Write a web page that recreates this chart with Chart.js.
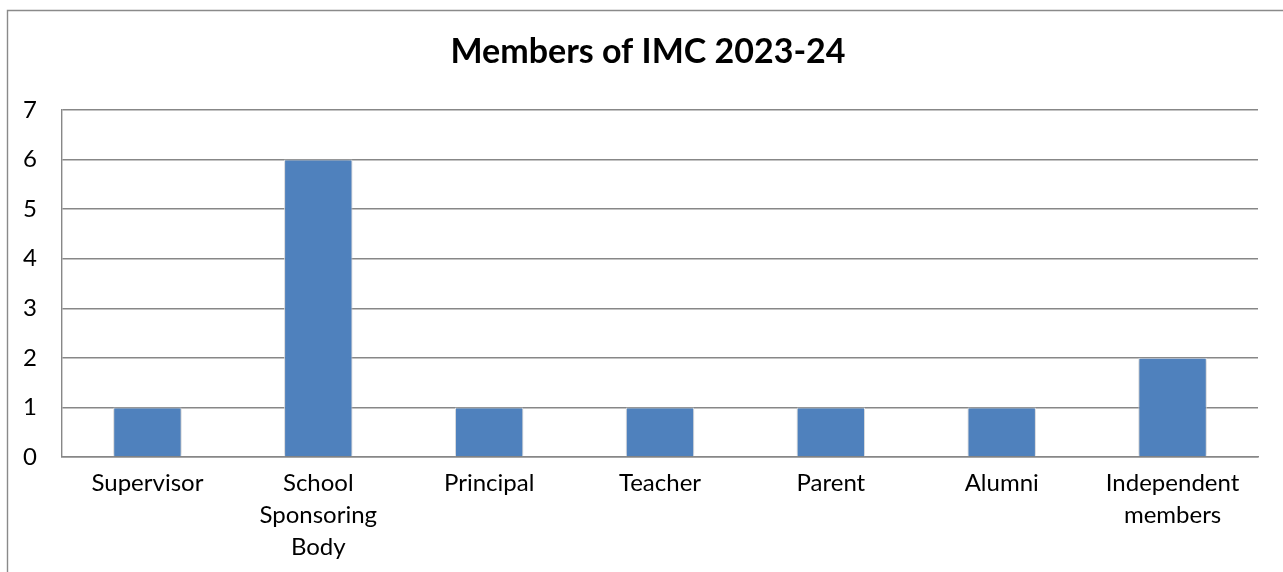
<!DOCTYPE html>
<html>
<head>
<meta charset="utf-8">
<script src="https://cdn.jsdelivr.net/npm/chart.js@4/dist/chart.umd.min.js"></script>
<style>
  html, body { margin: 0; padding: 0; background: #ffffff; }
  #wrap { position: absolute; left: 0; top: 0; width: 1283px; height: 572px; }
</style>
</head>
<body>
<div id="wrap"><canvas id="c" width="1283" height="572"></canvas></div>
<script>
const categories = ["Supervisor", ["School", "Sponsoring", "Body"], "Principal", "Teacher", "Parent", "Alumni", ["Independent", "members"]];
const memberCounts = [1, 6, 1, 1, 1, 1, 2];
const yTicks = [0, 1, 2, 3, 4, 5, 6, 7];
const chartTitle = "Members of IMC 2023-24";

const frame = {
  id: 'frame',
  beforeDraw(chart) {
    const ctx = chart.ctx;
    ctx.save();
    ctx.fillStyle = '#ffffff';
    ctx.fillRect(0, 0, chart.width, chart.height);
    ctx.strokeStyle = '#8a8a8a';
    ctx.lineWidth = 1.4;
    ctx.beginPath();
    ctx.moveTo(7.5, chart.height + 2);
    ctx.lineTo(7.5, 10.5);
    ctx.lineTo(chart.width + 2, 10.5);
    ctx.stroke();
    ctx.restore();
  },
  beforeDatasetsDraw(chart) {
    const ctx = chart.ctx;
    ctx.save();
    ctx.shadowColor = 'rgba(0,0,0,0.28)';
    ctx.shadowBlur = 4;
    ctx.shadowOffsetX = 0;
    ctx.shadowOffsetY = 0;
  },
  afterDatasetsDraw(chart) {
    chart.ctx.restore();
  }
};

new Chart(document.getElementById('c'), {
  type: 'bar',
  data: {
    labels: categories,
    datasets: [{
      data: memberCounts,
      backgroundColor: '#4f81bd',
      borderColor: '#f4f6fa',
      borderWidth: 1,
      barPercentage: 0.4,
      categoryPercentage: 1.0,
      yAxisID: 'y'
    }]
  },
  plugins: [frame],
  options: {
    responsive: false,
    animation: false,
    devicePixelRatio: 1,
    layout: { padding: { left: 13, right: 0, top: 0, bottom: 0 } },
    plugins: {
      legend: { display: false },
      tooltip: { enabled: false },
      title: {
        display: true,
        text: chartTitle,
        color: '#000000',
        font: { family: 'Lato', size: 34, weight: 'bold', lineHeight: 1.2 },
        padding: { top: 32, bottom: 37 }
      }
    },
    scales: {
      x: {
        grid: { display: false, drawTicks: false },
        border: { display: true, color: '#878787', width: 1.4 },
        ticks: {
          color: '#000000',
          font: { family: 'Lato', size: 24, lineHeight: 1.33 },
          padding: 10,
          maxRotation: 0,
          autoSkip: false
        },
        afterFit(scale) { scale.height = 115; }
      },
      y: {
        position: 'left',
        min: 0,
        max: 7,
        afterBuildTicks(scale) { scale.ticks = yTicks.map(v => ({ value: v })); },
        grid: { color: '#878787', lineWidth: 1.4, drawTicks: false },
        border: { display: true, color: '#878787', width: 1.4 },
        ticks: {
          color: '#000000',
          font: { family: 'Lato', size: 24 },
          padding: 25
        },
        afterFit(scale) { scale.width = 49; }
      },
      yRightSpace: {
        type: 'linear',
        position: 'right',
        display: true,
        min: 0,
        max: 7,
        grid: { display: false, drawTicks: false },
        border: { display: false },
        ticks: { display: false },
        afterFit(scale) { scale.width = 25; }
      }
    }
  }
});
</script>
</body>
</html>
